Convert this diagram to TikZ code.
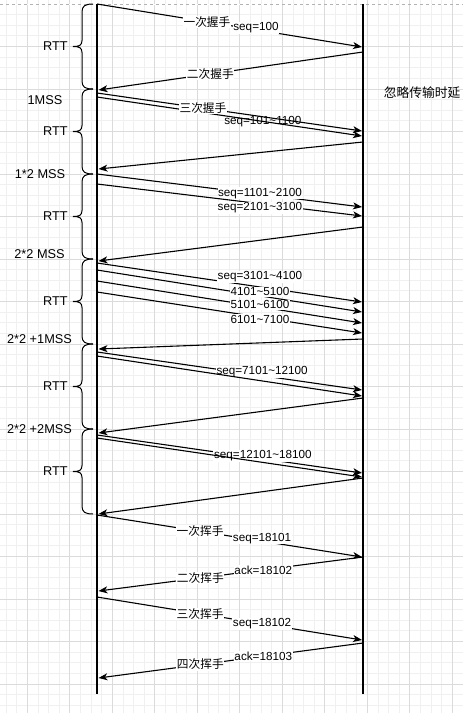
\documentclass[tikz,border=0pt]{standalone}
\usepackage{fontspec}
\setmainfont{Liberation Sans}
\newfontfamily\cjk{Noto Sans CJK SC}
\usetikzlibrary{arrows.meta}
\newcommand\tld{\textasciitilde}
\tikzset{
  life/.style={line width=2.1pt, draw=black},
  msg/.style={line width=1.1pt, draw=black, -{Stealth[length=9pt,width=7pt,inset=2.5pt]}},
  lbl/.style={fill=white, inner sep=0.6pt, text=black, font=\fontsize{11.7}{13}\selectfont},
  side/.style={text=black, inner sep=0pt, font=\fontsize{12.75}{14}\selectfont},
  bracestyle/.style={line width=1pt, draw=black},
  minorgrid/.style={draw=black!6, line width=0.8pt},
  majorgrid/.style={draw=black!14, line width=0.8pt},
  pageline/.style={draw=black!30, line width=0.9pt, dash pattern=on 3pt off 3pt},
}
\begin{document}
\begin{tikzpicture}[x=1pt,y=-1pt]
\useasboundingbox (0,0) rectangle (463,713);
\fill[white] (0,0) rectangle (463,713);
% grid
\foreach \i in {-2,...,41} \draw[minorgrid] ({27.3+10.625*\i},0) -- ({27.3+10.625*\i},713);
\foreach \j in {0,...,66} \draw[minorgrid] (0,{4+10.625*\j}) -- (463,{4+10.625*\j});
\foreach \i in {0,...,10} \draw[majorgrid] ({27.3+42.5*\i},0) -- ({27.3+42.5*\i},713);
\foreach \j in {1,...,16} \draw[majorgrid] (0,{4+42.5*\j}) -- (463,{4+42.5*\j});
\draw[white, line width=1pt] (0,4) -- (463,4);
\draw[pageline] (0,4) -- (463,4);

% lifelines
\coordinate (Ltop) at (97,4);
\coordinate (Lbot) at (97,694);
\coordinate (Rtop) at (363,4);
\coordinate (Rbot) at (363,694);
\draw[life] (Ltop) -- (Lbot);
\draw[life] (Rtop) -- (Rbot);

% braces and side labels
\foreach \ya/\yb/\k in {4/89/1, 89/174/2, 174/259/3, 259/344/4, 344/429/5, 429/514/6} {
  \pgfmathsetmacro\ym{(\ya+\yb)/2}
  \draw[bracestyle] (93,\ya) .. controls (85,\ya) and (82,\ya+2) .. (82,\ya+8)
    -- (82,\ym-6) .. controls (82,\ym-1) and (79,\ym) .. (73,\ym)
    .. controls (79,\ym) and (82,\ym+1) .. (82,\ym+6)
    -- (82,\yb-8) .. controls (82,\yb-2) and (85,\yb) .. (93,\yb);
  \node[side] (rtt\k) at (55.5,\ym) {RTT};
}
\node[side] (w1) at (45,100) {1MSS};
\node[side] (w2) at (40,174) {1*2 MSS};
\node[side] (w3) at (39.5,254) {2*2 MSS};
\node[side] (w4) at (39.5,339) {2*2 +1MSS};
\node[side] (w5) at (39.5,429) {2*2 +2MSS};
\node[side] (note) at (422,93) {\cjk 忽略传输时延};

% messages
\coordinate (s1) at (97,4);   \coordinate (e1) at (362,47);
\draw[msg] (s1) -- node[lbl,pos=.415] (l1a) {\cjk 一次握手} node[lbl,pos=.6,yshift=2pt] (l1b) {seq=100} (e1);
\coordinate (s2) at (363,52); \coordinate (e2) at (98.5,90);
\draw[msg] (s2) -- node[lbl,pos=.577] (l2) {\cjk 二次握手} (e2);
\coordinate (s3) at (97,93);  \coordinate (e3) at (362,131);
\coordinate (s4) at (97,97);  \coordinate (e4) at (362,136);
\draw[msg] (s4) -- node[lbl,pos=.626,fill=none] (l4) {seq=101\tld1100} (e4);
\draw[msg] (s3) -- node[lbl,pos=.4] (l3) {\cjk 三次握手} (e3);
\coordinate (s5) at (363,142); \coordinate (e5) at (98.5,169);
\draw[msg] (s5) -- (e5);

\coordinate (s6) at (97,174); \coordinate (e6) at (362,207);
\draw[msg] (s6) -- node[lbl,pos=.615,yshift=1pt] (l6) {seq=1101\tld2100} (e6);
\coordinate (s7) at (97,184); \coordinate (e7) at (362,216);
\draw[msg] (s7) -- node[lbl,pos=.615,yshift=-4pt] (l7) {seq=2101\tld3100} (e7);
\coordinate (s8) at (363,227); \coordinate (e8) at (98.5,261);
\draw[msg] (s8) -- (e8);

\coordinate (s9) at (97,263);  \coordinate (e9) at (362,302);
\draw[msg] (s9) -- node[lbl,pos=.615,yshift=10pt] (l9) {seq=3101\tld4100} (e9);
\coordinate (s10) at (97,270); \coordinate (e10) at (362,312);
\draw[msg] (s10) -- node[lbl,pos=.615,yshift=4pt] (l10) {4101\tld5100} (e10);
\coordinate (s11) at (97,281); \coordinate (e11) at (362,323);
\draw[msg] (s11) -- node[lbl,pos=.615,yshift=2pt] (l11) {5101\tld6100} (e11);
\coordinate (s12) at (97,292); \coordinate (e12) at (362,333);
\draw[msg] (s12) -- node[lbl,pos=.615,yshift=-2pt] (l12) {6101\tld7100} (e12);
\coordinate (s13) at (363,339); \coordinate (e13) at (98.5,349);
\draw[msg] (s13) -- (e13);

\coordinate (s14) at (97,352); \coordinate (e14) at (362,390);
\draw[msg] (s14) -- node[lbl,pos=.623,yshift=4pt] (l14) {seq=7101\tld12100} (e14);
\coordinate (s15) at (97,356); \coordinate (e15) at (362,396);
\draw[msg] (s15) -- (e15);
\coordinate (s16) at (363,398); \coordinate (e16) at (98.5,433);
\draw[msg] (s16) -- (e16);

\coordinate (s17) at (97,435); \coordinate (e17) at (362,473);
\draw[msg] (s17) -- node[lbl,pos=.626,yshift=3pt] (l17) {seq=12101\tld18100} (e17);
\coordinate (s18) at (97,438); \coordinate (e18) at (362,477);
\draw[msg] (s18) -- (e18);
\coordinate (s19) at (363,478); \coordinate (e19) at (98.5,514);
\draw[msg] (s19) -- (e19);

\coordinate (s20) at (97,515); \coordinate (e20) at (362,557);
\draw[msg] (s20) -- node[lbl,pos=.389] (l20a) {\cjk 一次挥手} node[lbl,pos=.623,yshift=3pt] (l20b) {seq=18101} (e20);
\coordinate (s21) at (363,557); \coordinate (e21) at (98.5,591);
\draw[msg] (s21) -- node[lbl,pos=.377] (l21a) {ack=18102} node[lbl,pos=.615] (l21b) {\cjk 二次挥手} (e21);
\coordinate (s22) at (97,597); \coordinate (e22) at (362,640);
\draw[msg] (s22) -- node[lbl,pos=.389] (l22a) {\cjk 三次挥手} node[lbl,pos=.623] (l22b) {seq=18102} (e22);
\coordinate (s23) at (363,643); \coordinate (e23) at (98.5,678);
\draw[msg] (s23) -- node[lbl,pos=.377] (l23a) {ack=18103} node[lbl,pos=.615] (l23b) {\cjk 四次挥手} (e23);
\end{tikzpicture}
\end{document}
